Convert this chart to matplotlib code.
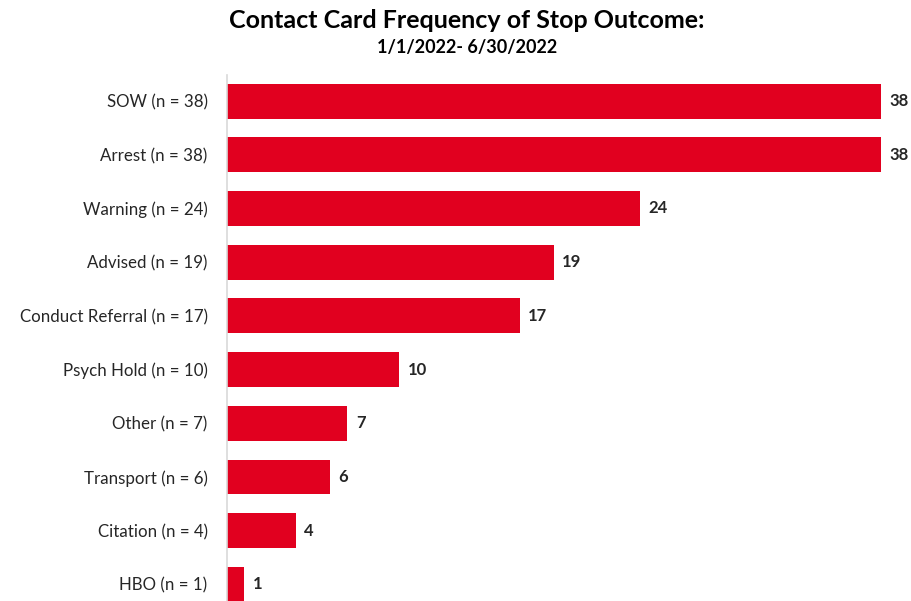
import matplotlib.pyplot as plt

plt.rcParams['font.family'] = ['Lato', 'DejaVu Sans']

# Stop outcomes, top to bottom
outcomes = ['SOW', 'Arrest', 'Warning', 'Advised', 'Conduct Referral',
            'Psych Hold', 'Other', 'Transport', 'Citation', 'HBO']
counts = [38, 38, 24, 19, 17, 10, 7, 6, 4, 1]

BAR_RED = '#E1001F'

fig = plt.figure(figsize=(9.11, 6.01), dpi=100)
W, H = 911, 601
ax = fig.add_axes([227 / W, 0, (881 - 227) / W, (601 - 75) / H])

pos = list(range(len(outcomes)))
ax.barh(pos, counts, height=0.65, color=BAR_RED)
ax.set_xlim(0, 38)
ax.set_ylim(9.31, -0.486)

labels = [f'{o} (n = {c})' for o, c in zip(outcomes, counts)]
ax.set_yticks(pos)
ax.set_yticklabels(labels, fontsize=12.2, color='#262626')
ax.tick_params(axis='y', length=0, pad=14)
ax.set_xticks([])

for s in ('top', 'right', 'bottom'):
    ax.spines[s].set_visible(False)
ax.spines['left'].set_color('#d9d9d9')
ax.spines['left'].set_linewidth(1.2)

for p, c in zip(pos, counts):
    ax.annotate(str(c), (c, p), xytext=(6, 0), textcoords='offset points',
                va='center', ha='left', fontsize=12, fontweight='bold',
                color='#262626', annotation_clip=False)

fig.text(467 / W, 1 - 21 / H, 'Contact Card Frequency of Stop Outcome:',
         ha='center', va='center', fontsize=18, fontweight='bold', color='black')
fig.text(467 / W, 1 - 47 / H, '1/1/2022- 6/30/2022',
         ha='center', va='center', fontsize=13, fontweight='bold', color='black')

fig.savefig('out.png', dpi=100)
